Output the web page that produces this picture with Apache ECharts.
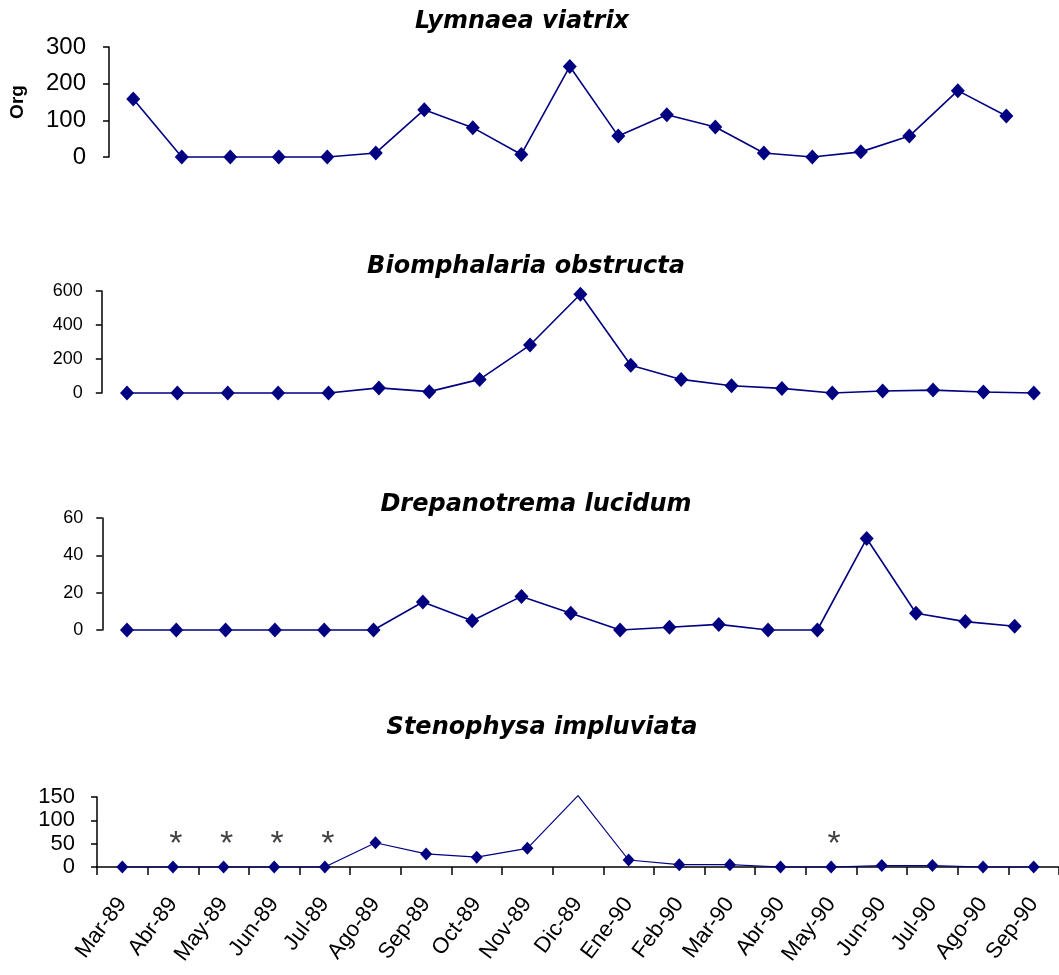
<!DOCTYPE html>
<html><head><meta charset="utf-8">
<script src="https://cdn.jsdelivr.net/npm/echarts@6/dist/echarts.min.js"></script>
<style>html,body{margin:0;padding:0;background:#fff}#c{width:1059px;height:975px}</style>
</head><body><div id="c"></div>
<script>
const months = ['Mar-89','Abr-89','May-89','Jun-89','Jul-89','Ago-89','Sep-89','Oct-89','Nov-89','Dic-89','Ene-90','Feb-90','Mar-90','Abr-90','May-90','Jun-90','Jul-90','Ago-90','Sep-90'];
const titles = ['Lymnaea viatrix','Biomphalaria obstructa','Drepanotrema lucidum','Stenophysa impluviata'];
const lymnaea = [158,0,0,0,0,11,129,80,7,247,57,115,82,11,0,14,57,181,112];
const biomphalaria = [0,0,0,0,0,30,8,80,282,581,163,80,43,27,0,12,17,6,0];
const drepanotrema = [0,0,0,0,0,0,15,5,18,9,0,1.5,3,0,0,49,9,4.5,2];
const stenophysa = [0,0,0,0,0,52,28,21,40,153,15,5,5,0,0,3,3,0,0];
const stenophysaMarker = [1,1,1,1,1,1,1,1,1,0,1,1,1,1,1,1,1,1,1];
const asterisks = [0,1,1,1,1,0,0,0,0,0,0,0,0,0,1,0,0,0,0];
const asteriskLevel = 64;
const yMax = [300,600,60,150];
const yStep = [100,200,20,50];

const NAVY = '#000080';
const grids = [
  {left:102.6, top:47, width:928, height:110},
  {left:101.8, top:291, width:958, height:102},
  {left:102.3, top:518, width:937, height:112},
  {left:97, top:797, width:965, height:70}
];
const yFont = [
  {fontSize:24, margin:23, lineHeight:24},
  {fontSize:18, margin:19, lineHeight:18},
  {fontSize:18, margin:19, lineHeight:18},
  {fontSize:22, margin:22, lineHeight:20}
];
const titleCfg = [{x:517,y:5},{x:521,y:250},{x:531,y:488},{x:537,y:711}];
const seriesData = [lymnaea, biomphalaria, drepanotrema, stenophysa];

const chart = echarts.init(document.getElementById('c'));
const xAxes = [], yAxes = [], series = [];
grids.forEach((g,i)=>{
  const bottom = i===3;
  xAxes.push({
    type:'category', gridIndex:i, data:months, boundaryGap:true,
    show: bottom,
    axisLine:{show:bottom, lineStyle:{color:'#000', width:1.5}},
    axisTick:{show:bottom, length:8, lineStyle:{color:'#000', width:1.5}},
    axisLabel:{show:bottom, rotate:53, interval:0, margin:33, color:'#000', fontFamily:'Liberation Sans', fontSize:22}
  });
  yAxes.push({
    type:'value', gridIndex:i, min:0, max:yMax[i], interval:yStep[i],
    name: i===0 ? 'Org' : '', nameLocation:'middle', nameGap:82, nameRotate:90,
    nameTextStyle:{fontFamily:'Liberation Sans', fontWeight:'bold', fontSize:19, color:'#000'},
    axisLine:{show:true, lineStyle:{color:'#000', width:1.5}},
    axisTick:{show:true, length:6, lineStyle:{color:'#000', width:1.5}},
    splitLine:{show:false},
    axisLabel:{color:'#000', fontFamily:'Liberation Sans', fontSize:yFont[i].fontSize, lineHeight:yFont[i].lineHeight,
      margin:yFont[i].margin, showMinLabel:true, showMaxLabel:true, hideOverlap:false, interval:0}
  });
  const d = seriesData[i].map((v,k)=> (i===3 && !stenophysaMarker[k]) ? {value:v, symbolSize:0} : v);
  series.push({
    type:'line', xAxisIndex:i, yAxisIndex:i, data:d,
    symbol:'diamond', symbolSize: i===3 ? [12,13] : [14,15],
    lineStyle:{color:NAVY, width: i===3 ? 1.2 : 1.6},
    itemStyle:{color:NAVY}, animation:false, clip:false
  });
});
series.push({
  type:'scatter', xAxisIndex:3, yAxisIndex:3,
  data: asterisks.map(f => f ? asteriskLevel : null),
  symbolSize:0,
  label:{show:true, position:'inside', formatter:'*', fontFamily:'Liberation Sans', fontSize:34, color:'#111', offset:[3,7]},
  animation:false
});

chart.setOption({
  animation:false,
  title: titles.map((t,i)=>({text:t, left:titleCfg[i].x, top:titleCfg[i].y, textAlign:'center',
    textStyle:{fontFamily:'DejaVu Sans', fontStyle:'italic', fontWeight:'bold', fontSize:24, color:'#000'}})),
  grid: grids,
  xAxis: xAxes,
  yAxis: yAxes,
  series: series
});
</script>
</body></html>
